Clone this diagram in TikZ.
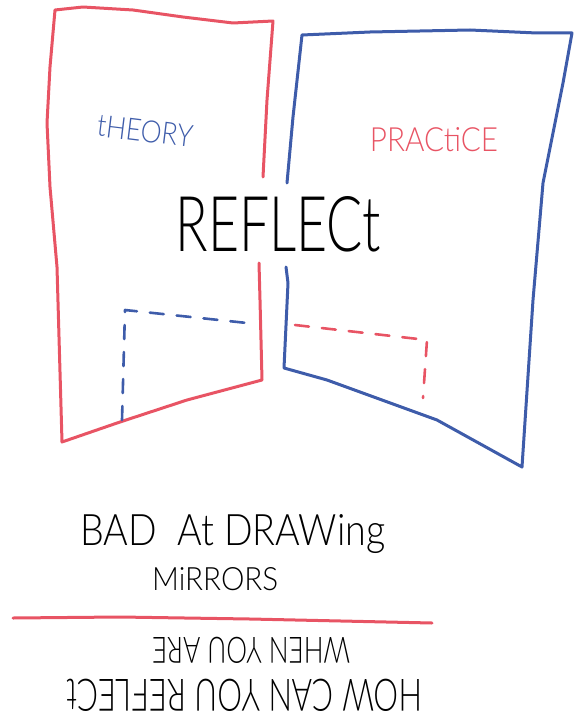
\documentclass[tikz,border=0pt]{standalone}
\usepackage{fontspec}
\setmainfont{Lato}[UprightFont=* Light]
\usepackage{graphicx}
\definecolor{penred}{RGB}{232,84,100}
\definecolor{penblue}{RGB}{62,92,170}
\begin{document}
\begin{tikzpicture}[x=1pt,y=-1pt,
  pen/.style={line width=3pt,line cap=round,line join=round},
  dashpen/.style={line width=2.6pt,line cap=round,line join=round,dash pattern=on 14pt off 13pt},
  lbl/.style={inner sep=0pt,anchor=center}]
\useasboundingbox (0,0) rectangle (574,717);
% left panel (red)
\draw[pen,penred] (263,177) -- (267,100) -- (273,21) -- (233,23) -- (183,17) -- (133,10) -- (83,7) -- (55,10)
  -- (50,67) -- (47,123) -- (50,187) -- (57,267) -- (62,442) -- (120,422) -- (187,400) -- (262,380) -- (260,300) -- (259,263);
% right panel (blue)
\draw[pen,penblue] (287,183) -- (293,117) -- (302,35) -- (370,32) -- (470,30) -- (537,33) -- (572,33)
  -- (563,83) -- (543,183) -- (533,300) -- (522,467) -- (437,420) -- (327,380) -- (284,368) -- (288,283) -- (286,267);
% dashed corners
\draw[dashpen,penblue] (122,420) -- (125,310) -- (247,323);
\draw[dashpen,penred] (295,325) -- (427,340) -- (423,398);
% labels
\node[lbl,text=penblue,rotate=-7] (theory) at (145,131) {\resizebox{96pt}{22pt}{tHEORY}};
\node[lbl,text=penred] (practice) at (434,140) {\resizebox{128pt}{24pt}{PRACtiCE}};
\node[lbl] (reflect) at (278,224) {\resizebox{205pt}{55pt}{REFLECt}};
\node[lbl,anchor=base west] (bad) at (80,545) {\resizebox{305pt}{31pt}{BAD\ \ At DRAWing}};
\node[lbl,anchor=base west] (mirrors) at (152,590) {\resizebox{126pt}{23pt}{MiRRORS}};
% divider
\draw[pen,penred] (13,618) -- (120,617) -- (250,619) -- (432,623);
% upside-down text
\node[lbl,rotate=180,anchor=base east] (when) at (152,637) {\resizebox{198pt}{26pt}{WHEN YOU ARE}};
\node[lbl,rotate=180,anchor=base east] (how) at (67,679) {\resizebox{355pt}{32pt}{HOW CAN YOU REFLECt}};
\end{tikzpicture}
\end{document}
